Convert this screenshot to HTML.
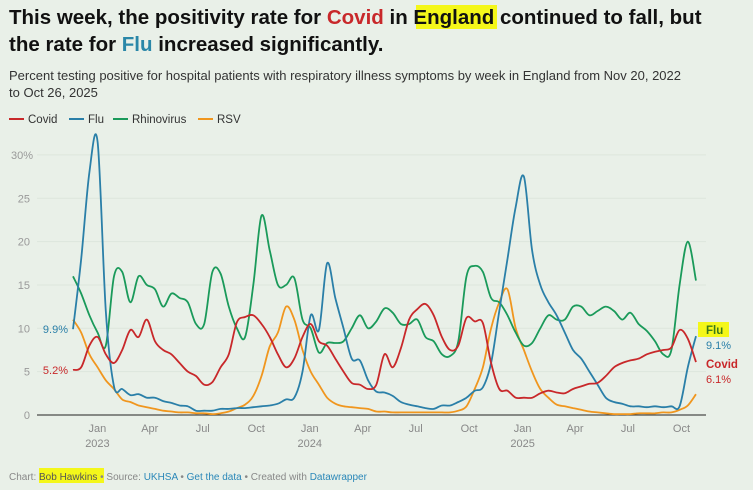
<!DOCTYPE html>
<html><head><meta charset="utf-8">
<style>
html,body{margin:0;padding:0;background:#e9f0e8;width:753px;height:490px;overflow:hidden;font-family:"Liberation Sans",Arial,sans-serif;}
svg{display:block}
</style></head>
<body>
<svg width="753" height="490" viewBox="0 0 753 490">
<rect x="0" y="0" width="753" height="490" fill="#e9f0e8"/>
<g font-weight="bold" font-size="20.5" fill="#111">
<rect x="416" y="5" width="81" height="24" fill="#f4f71a"/>
<text x="9" y="24">This week, the positivity rate for <tspan fill="#c8282a">Covid</tspan> in England continued to fall, but</text>
<text x="9" y="51">the rate for <tspan fill="#2a87a8">Flu</tspan> increased significantly.</text>
</g>
<g font-size="13" fill="#333">
<text x="9" y="80">Percent testing positive for hospital patients with respiratory illness symptoms by week in England from Nov 20, 2022</text>
<text x="9" y="97">to Oct 26, 2025</text>
</g>
<g font-size="11.5" fill="#333">
<g><rect x="9" y="118" width="15" height="2" fill="#c8282a"/><text x="28" y="123">Covid</text></g>
<g><rect x="69" y="118" width="15" height="2" fill="#2a7fa8"/><text x="88" y="123">Flu</text></g>
<g><rect x="113" y="118" width="15" height="2" fill="#1a9a5a"/><text x="132" y="123">Rhinovirus</text></g>
<g><rect x="198" y="118" width="15" height="2" fill="#f0961e"/><text x="217" y="123">RSV</text></g>
</g>
<g id="grid"></g>
<g id="xaxis"></g>
<g id="series"></g>
<g id="labels"></g>
<g font-size="10" fill="#888">
<rect x="39" y="468" width="65" height="15" fill="#f4f71a"/>
<text x="9" y="480">Chart: <tspan fill="#555">Bob Hawkins</tspan> • Source: <tspan fill="#2a87b8">UKHSA</tspan> • <tspan fill="#2a87b8">Get the data</tspan> • Created with <tspan fill="#2a87b8">Datawrapper</tspan></text>
</g>
</svg>
<script>
const yTicks=[0,5,10,15,20,25,30];
const xTickLabels=[["Jan","2023"],["Apr",""],["Jul",""],["Oct",""],["Jan","2024"],["Apr",""],["Jul",""],["Oct",""],["Jan","2025"],["Apr",""],["Jul",""],["Oct",""]];
const xTickDates=["2023-01-01","2023-04-01","2023-07-01","2023-10-01","2024-01-01","2024-04-01","2024-07-01","2024-10-01","2025-01-01","2025-04-01","2025-07-01","2025-10-01"];
const startDate="2022-11-20";
const endDate="2025-10-26";
const covid=[5.2,5.5,8,9,7,6,7.5,9.8,9,11,8.5,7.5,7,6,5,4.5,3.5,3.8,5.5,7,10.7,11.3,11.5,10.5,9,7,5.5,6.5,9,10.5,8.5,8,6.5,5,3.7,3.5,3,3.5,7,5.5,7.7,11,12.2,12.8,11.5,9,7.5,8,11.2,10.8,10.6,6,3,2.8,2,2,2,2.5,2.8,2.6,2.5,3,3.3,3.6,3.7,4.5,5.5,6,6.3,6.5,7,7.3,7.5,7.8,9.8,8.8,6.1];
const flu=[9.9,18,28,31.5,12,3.3,3,2.3,2.4,2,2,1.6,1.4,1.1,1,0.5,0.5,0.5,0.7,0.7,0.8,0.8,0.9,1,1.1,1.3,1.8,2,5,11.5,9.8,17.5,13.5,10,6.5,6.3,4,2.7,2.6,2.2,1.5,1.2,1,0.8,0.7,1.1,1.1,1.5,2,2.8,3.2,6,12,18,24,27.5,19,15,13,11.5,9.5,7.5,6.5,5,3.5,2,1.5,1.3,1,1,0.9,1,0.9,1,1,5.5,9.1];
const rhinovirus=[16,14,11.5,9.5,8,16,16.5,13,16,15,14.5,12.5,14,13.5,13,10.5,10.5,16.5,16.3,12.5,10,9,15,23,19,15,15,15.8,11,10,7.2,8.3,8.3,8.5,10,11.5,10,10.8,12.3,11.8,10.5,10.5,11,9,8.5,7,6.8,8.5,16,17.2,16.5,13.5,13,11.5,9.5,8,8.3,10,11.5,11,11,12.5,12.5,11.5,12,12.5,12,11,11.8,10.5,9.7,8.5,7,7.5,15,20,15.5];
const rsv=[11,9.5,7,5.5,4,3,1.8,1.5,1.1,0.9,0.7,0.5,0.4,0.3,0.3,0.2,0.2,0.1,0.2,0.4,0.8,1.2,2.2,4.5,7.9,9.5,12.5,11,7.5,5,3.5,2,1.3,1,0.9,0.8,0.7,0.4,0.4,0.3,0.3,0.3,0.3,0.3,0.3,0.3,0.3,0.5,1,3,5.5,10,13,14.5,10,7.5,5,3,2,1.2,1,0.8,0.6,0.4,0.3,0.2,0.1,0.1,0.1,0.2,0.2,0.2,0.3,0.3,0.6,1.1,2.4];

const NS="http://www.w3.org/2000/svg";
const X0=73,X1=696,Y0=415,YPER=8.67;
const t0=Date.parse(startDate),t1=Date.parse(endDate);
function xDate(d){return X0+(Date.parse(d)-t0)/(t1-t0)*(X1-X0);}
function xIdx(i,n){return X0+i/(n-1)*(X1-X0);}
function yVal(v){return Y0-v*YPER;}
function mk(tag,attrs,parent){const e=document.createElementNS(NS,tag);for(const k in attrs)e.setAttribute(k,attrs[k]);parent.appendChild(e);return e;}
const grid=document.getElementById('grid');
yTicks.forEach(v=>{
  if(v>0){const l=mk('line',{x1:37,x2:706,y1:yVal(v),y2:yVal(v),stroke:'#dde6dc','stroke-width':1},grid);
  
  }
  const t=mk('text',{x:v==30?33:30,y:yVal(v)+4,'text-anchor':'end','font-size':11,fill:'#999'},grid);
  t.textContent=v==30?'30%':String(v);
  
  
});
const xa=document.getElementById('xaxis');
const base=mk('line',{x1:37,x2:706,y1:Y0,y2:Y0,stroke:'#222','stroke-width':1},xa);


xTickDates.forEach((d,i)=>{
  const x=xDate(d);
  const t=mk('text',{x:x,y:432,'text-anchor':'middle','font-size':11,fill:'#888'},xa);
  t.textContent=xTickLabels[i][0];
  
  
  if(xTickLabels[i][1]){const t2=mk('text',{x:x,y:447,'text-anchor':'middle','font-size':11,fill:'#888'},xa);
  t2.textContent=xTickLabels[i][1];
  
  }
});
const ser=document.getElementById('series');
function line(arr,color,name){
  const pts=arr.map((v,i)=>[xIdx(i,arr.length),yVal(v)]);
  let d='M'+pts[0][0].toFixed(1)+','+pts[0][1].toFixed(1);
  for(let i=0;i<pts.length-1;i++){
    const p0=pts[Math.max(0,i-1)],p1=pts[i],p2=pts[i+1],p3=pts[Math.min(pts.length-1,i+2)];
    const c1x=p1[0]+(p2[0]-p0[0])/6,c1y=p1[1]+(p2[1]-p0[1])/6;
    const c2x=p2[0]-(p3[0]-p1[0])/6,c2y=p2[1]-(p3[1]-p1[1])/6;
    d+='C'+c1x.toFixed(1)+','+c1y.toFixed(1)+' '+c2x.toFixed(1)+','+c2y.toFixed(1)+' '+p2[0].toFixed(1)+','+p2[1].toFixed(1);
  }
  const p=mk('path',{d:d,fill:'none',stroke:color,'stroke-width':1.8,'stroke-linejoin':'round'},ser);
  
  
}
line(rsv,'#f0961e','rsv-line');
line(rhinovirus,'#1a9a5a','rhinovirus-line');
line(flu,'#2a7fa8','flu-line');
line(covid,'#c8282a','covid-line');
const lab=document.getElementById('labels');
function txt(x,y,s,c,opts,name){const t=mk('text',Object.assign({x:x,y:y,'font-size':11,fill:c},opts||{}),lab);t.textContent=s;

return t;}
txt(68,yVal(flu[0])+4,flu[0].toFixed(1)+'%','#2a7fa8',{'text-anchor':'end'},'flu-start-label');
txt(68,yVal(covid[0])+4,covid[0].toFixed(1)+'%','#c8282a',{'text-anchor':'end'},'covid-start-label');
const hl=mk('rect',{x:698,y:322,width:31,height:15,fill:'#f4f71a'},lab);


txt(706,334,'Flu','#3a7a1a',{'font-weight':'bold','font-size':11.5},'flu-end-name');
txt(706,349,flu[flu.length-1].toFixed(1)+'%','#2a7fa8',{},'flu-end-value');
txt(706,368,'Covid','#c8282a',{'font-weight':'bold','font-size':11.5},'covid-end-name');
txt(706,383,covid[covid.length-1].toFixed(1)+'%','#c8282a',{},'covid-end-value');
</script>
</body></html>
